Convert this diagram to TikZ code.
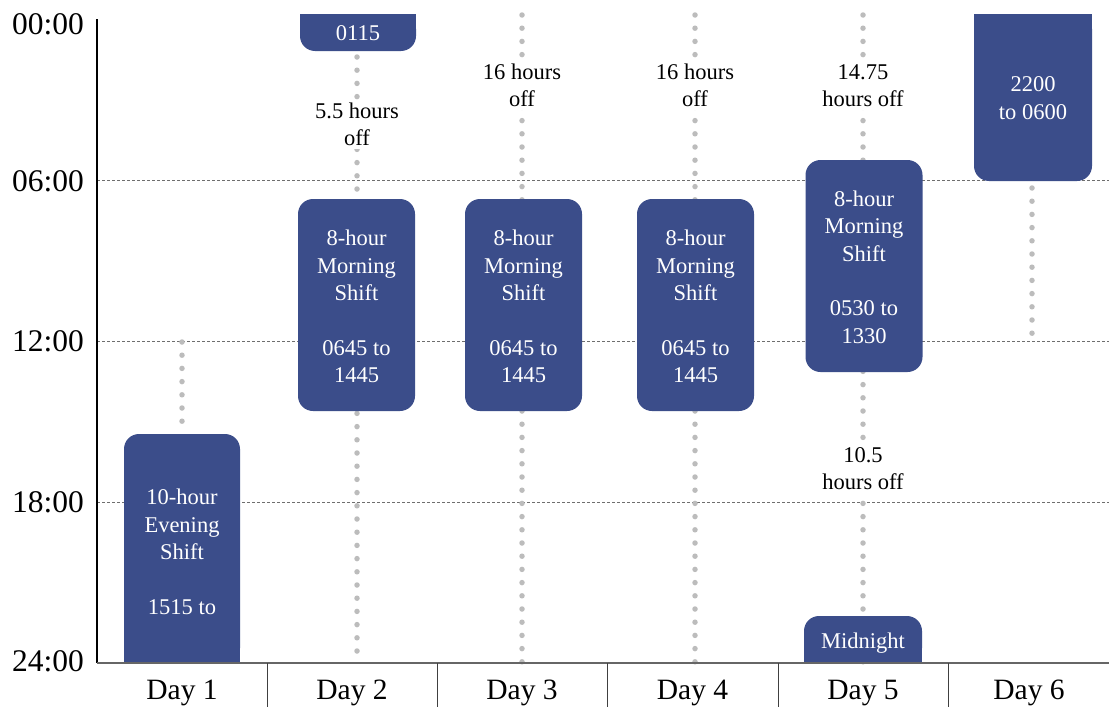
\documentclass[tikz,border=0pt]{standalone}
\usepackage{fontspec}
\setmainfont{Liberation Serif}
\definecolor{boxblue}{RGB}{59,77,138}
\definecolor{dotgray}{RGB}{188,188,188}
\definecolor{gridgray}{RGB}{110,110,110}
\newcommand\bxfont{\fontsize{22.5}{27.4}\selectfont}
\newcommand\axfont{\fontsize{31.5}{31.5}\selectfont}
\newcommand\dyfont{\fontsize{29.5}{29.5}\selectfont}
\begin{document}
\begin{tikzpicture}[x=1pt,y=-1pt,
  box/.style={fill=boxblue, rounded corners=15pt, inner sep=0pt},
  btxt/.style={text=white, inner sep=0pt, align=center, font=\bxfont},
  lbl/.style={fill=white, inner sep=3pt, align=center, font=\bxfont},
  axlbl/.style={anchor=east, inner sep=0pt, font=\axfont},
  daylbl/.style={anchor=base, inner sep=0pt, font=\dyfont},
  dots/.style={draw=dotgray, line width=5.5pt, line cap=round, dash pattern=on 0pt off 13.2pt},
  grid/.style={draw=gridgray, line width=0.8pt, dash pattern=on 3pt off 2pt},
  axis/.style={draw=black, line width=1.4pt},
  sep/.style={draw=black!75, line width=1pt}]
\useasboundingbox (0,0) rectangle (1109,707);

% coordinates
\coordinate (o) at (97,663);
\coordinate (top) at (97,19);
\coordinate (end) at (1109,663);
\foreach \y/\n in {180/g6,341/g12,502/g18}{
  \coordinate (\n a) at (97,\y);
  \coordinate (\n b) at (1109,\y);
}
% grid lines
\foreach \n in {g6,g12,g18}{ \path[grid] (\n a) -- (\n b); }

% dotted columns
\coordinate (c1a) at (182,342); \coordinate (c1b) at (182,434);
\coordinate (c2a) at (357,57);  \coordinate (c2b) at (357,663);
\coordinate (c3a) at (522,15);  \coordinate (c3b) at (522,663);
\coordinate (c4a) at (695,15);  \coordinate (c4b) at (695,663);
\coordinate (c5a) at (863,15);  \coordinate (c5b) at (863,663);
\coordinate (c6a) at (1032,188); \coordinate (c6b) at (1032,340);
\foreach \i in {1,...,6}{ \path[dots] (c\i a) -- (c\i b); }

% off-time labels
\node[lbl] (o2) at (357,124.5) {5.5 hours\\off};
\node[lbl] (o3) at (522,85.5) {16 hours\\off};
\node[lbl] (o4) at (695,85.5) {16 hours\\off};
\node[lbl] (o5a) at (863,85.5) {14.75\\hours off};
\node[lbl] (o5b) at (863,468.5) {10.5\\hours off};

% shift boxes
\node[box, minimum width=116pt, minimum height=229pt] (s1) at (182,548.5) {};
\fill[boxblue] (s1.south west) rectangle ++(20,-20);
\fill[boxblue] (s1.south east) rectangle ++(-20,-20);
\node[btxt] (s1t) at (182,552) {10-hour\\Evening\\Shift\\[27.4pt]1515 to};

\node[box, minimum width=116pt, minimum height=37pt] (s2a) at (358,32.5) {};
\fill[boxblue] (s2a.north west) rectangle ++(20,16);
\fill[boxblue] (s2a.north east) rectangle ++(-20,16);
\node[btxt] (s2at) at (358,33.5) {0115};

\node[box, minimum width=117pt, minimum height=212pt] (s2) at (356.5,305) {};
\node[btxt] (s2t) at (356.5,306.5) {8-hour\\Morning\\Shift\\[27.4pt]0645 to\\1445};
\node[box, minimum width=117pt, minimum height=212pt] (s3) at (523.5,305) {};
\node[btxt] (s3t) at (523.5,306.5) {8-hour\\Morning\\Shift\\[27.4pt]0645 to\\1445};
\node[box, minimum width=117pt, minimum height=212pt] (s4) at (695.5,305) {};
\node[btxt] (s4t) at (695.5,306.5) {8-hour\\Morning\\Shift\\[27.4pt]0645 to\\1445};
\node[box, minimum width=117pt, minimum height=212pt] (s5) at (864,266) {};
\node[btxt] (s5t) at (864,267) {8-hour\\Morning\\Shift\\[27.4pt]0530 to\\1330};

\node[box, minimum width=118pt, minimum height=47pt] (s5b) at (863,639.5) {};
\fill[boxblue] (s5b.south west) rectangle ++(20,-20);
\fill[boxblue] (s5b.south east) rectangle ++(-20,-20);
\node[btxt] (s5bt) at (863,643) {Midnight};

\node[box, minimum width=118pt, minimum height=167pt] (s6) at (1033,97.5) {};
\fill[boxblue] (s6.north west) rectangle ++(20,20);
\fill[boxblue] (s6.north east) rectangle ++(-20,20);
\node[btxt] (s6t) at (1033,98) {2200\\to 0600};

% axes
\path[axis] (top) -- (o);
\path[draw=black!60, line width=1.4pt] (o) -- (end);
\foreach \x/\n in {267/t1,437/t2,607/t3,778/t4,948/t5}{
  \coordinate (\n a) at (\x,663);
  \coordinate (\n b) at (\x,707);
  \path[sep] (\n a) -- (\n b);
}

% axis labels
\node[axlbl] (h0) at (84,24) {00:00};
\node[axlbl] (h6) at (84,181) {06:00};
\node[axlbl] (h12) at (84,341) {12:00};
\node[axlbl] (h18) at (84,502) {18:00};
\node[axlbl] (h24) at (84,661) {24:00};

% day labels
\node[daylbl] (d1) at (182,699) {Day 1};
\node[daylbl] (d2) at (352,699) {Day 2};
\node[daylbl] (d3) at (522,699) {Day 3};
\node[daylbl] (d4) at (692.5,699) {Day 4};
\node[daylbl] (d5) at (863,699) {Day 5};
\node[daylbl] (d6) at (1029,699) {Day 6};
\end{tikzpicture}
\end{document}
